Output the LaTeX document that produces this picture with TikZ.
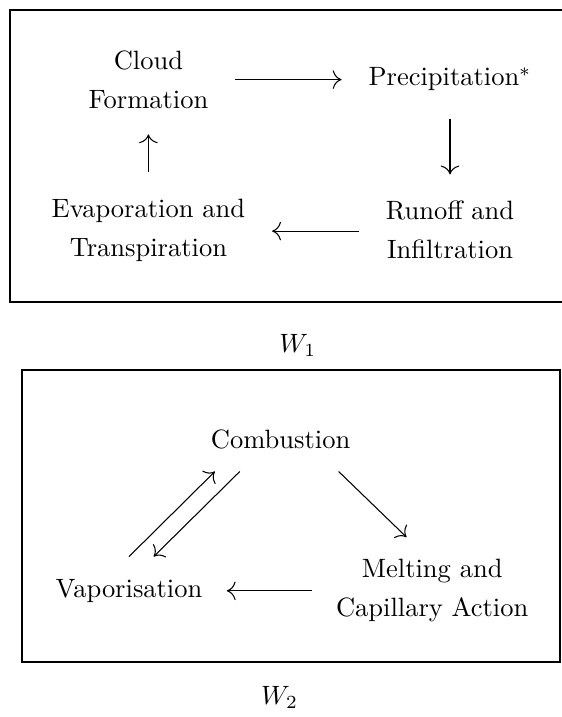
\documentclass[tikz,border=0pt]{standalone}
\usetikzlibrary{arrows.meta}
\begin{document}
\begin{tikzpicture}[
            x=0.3774pt, y=-0.3774pt, >={To[scale=1.35]},
            stage/.style={inner sep=0pt},
            flow/.style={->, shorten >=4pt, shorten <=4pt},
        ]
            \useasboundingbox (0,0) rectangle (562,717);
            % first cycle
            \draw (562,10) -- (10,10) -- (10,302) -- (562,302);
            \node[stage](cloud) at (148.4,83.1) {\begin{tabular}{c} Cloud \\[2.7pt] Formation \end{tabular}};
            \node[stage](precip) at (450,79.6) {\begin{tabular}{c} Precipitation$^*$ \end{tabular}};
            \node[stage](runoff) at (450,233.1) {\begin{tabular}{c} Runoff and \\[2.7pt] Infiltration \end{tabular}};
            \node[stage](evap) at (148.4,231.1) {\begin{tabular}{c} Evaporation and \\[2.7pt] Transpiration \end{tabular}};
            \draw[flow] (cloud.east |- precip) -- (precip);
            \draw[flow, shorten <=8.5pt, shorten >=8.6pt] (precip) -- (runoff);
            \draw[flow] (runoff.west |- evap) -- (evap);
            \draw[flow, shorten <=8.6pt, shorten >=5.8pt] (evap) -- (cloud);
            \node(w1) at (297.8,345) {$W_1$};
            % second cycle
            \draw (22,370) rectangle (560,662);
            \node[stage](comb) at (280.6,442.6) {\begin{tabular}{c} Combustion \end{tabular}};
            \node[stage](vap) at (129,590.8) {\begin{tabular}{c} Vaporisation \end{tabular}};
            \node[stage](melt) at (432.2,590.8) {\begin{tabular}{c} Melting and \\[2.7pt] Capillary Action \end{tabular}};
            \draw[->] ([yshift=6.7pt]vap.north) -- ([xshift=-24.8pt,yshift=-4.7pt]comb.south);
            \draw[->] ([xshift=-15.4pt,yshift=-4.7pt]comb.south) -- ([xshift=9.3pt,yshift=6.7pt]vap.north);
            \draw[->] ([xshift=21.9pt,yshift=-4.7pt]comb.south) -- ([xshift=-9.7pt,yshift=6.7pt]melt.north);
            \draw[flow, shorten <=2.9pt, shorten >=3pt] (melt) -- (vap);
            \node(w2) at (279.5,697) {$W_2$};
        \end{tikzpicture}
\end{document}
